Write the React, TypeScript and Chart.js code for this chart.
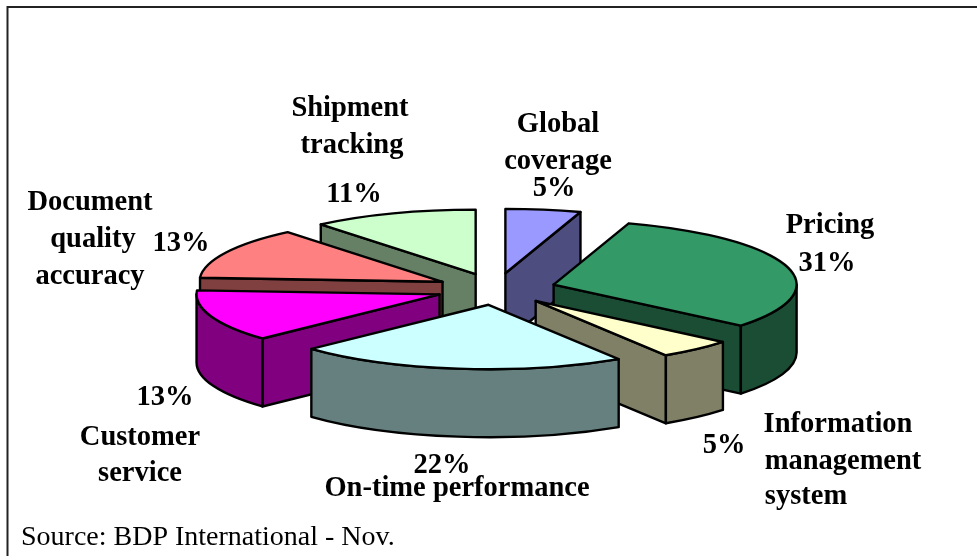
import React, { useEffect, useRef } from "react";
import { Chart, registerables } from "chart.js";

Chart.register(...registerables);

const categories = [
  "Global coverage",
  "Pricing",
  "Information management system",
  "On-time performance",
  "Customer service",
  "Document quality accuracy",
  "Shipment tracking",
];
const shares = [5, 31, 5, 22, 13, 13, 11];
const topColors = ["#9999ff", "#339966", "#ffffcc", "#ccffff", "#ff00ff", "#ff8080", "#ccffcc"];
const wallColors = ["#4d4d80", "#1a4d33", "#808066", "#668080", "#800080", "#804040", "#668066"];
const paintOrder = [6, 0, 5, 4, 1, 2, 3];
const sourceNote = "Source: BDP International - Nov.";

const TILT = 0.265;
const DEPTH = 68;
const EXPLODE = 60;
const RADIUS = 243;
const EDGE = 2.4;

const labelPlacement: [string, number, number][] = [
  ["Shipment", 350, 116],
  ["tracking", 352, 153],
  ["11%", 354, 202],
  ["Global", 558, 132],
  ["coverage", 558, 169],
  ["5%", 554, 196],
  ["Pricing", 830, 233],
  ["31%", 827, 271],
  ["Information", 838, 432],
  ["management", 843, 469],
  ["system", 806, 504],
  ["5%", 724, 453],
  ["22%", 442, 473],
  ["On-time performance", 457, 496],
  ["Customer", 140, 445],
  ["service", 140, 481],
  ["13%", 165, 405],
  ["Document", 90, 210],
  ["quality", 93, 247],
  ["accuracy", 90, 284],
  ["13%", 181, 251],
];

const pie3d = {
  id: "pie3d",
  beforeDraw(chart: any) {
    const { ctx, width, height } = chart;
    ctx.save();
    ctx.fillStyle = "#ffffff";
    ctx.fillRect(0, 0, width, height);
    ctx.strokeStyle = "#222222";
    ctx.lineWidth = 2;
    ctx.beginPath();
    ctx.moveTo(7.5, height + 2);
    ctx.lineTo(7.5, 7);
    ctx.lineTo(width + 2, 7);
    ctx.stroke();
    ctx.restore();
  },
  beforeDatasetDraw(chart: any, args: any) {
    const { ctx } = chart;
    const meta = chart.getDatasetMeta(args.index);
    for (const i of paintOrder) {
      const arc = meta.data[i];
      const { x, y, startAngle: a0, endAngle: a1, outerRadius: r } = arc.getProps(
        ["x", "y", "startAngle", "endAngle", "outerRadius"],
        true
      );
      const mid = (a0 + a1) / 2;
      const ox = x + Math.cos(mid) * EXPLODE;
      const oy = y + Math.sin(mid) * EXPLODE * TILT;
      const rim = (t: number): [number, number] => [
        ox + Math.cos(t) * r,
        oy + Math.sin(t) * r * TILT,
      ];
      const outline = (fill: string) => {
        ctx.fillStyle = fill;
        ctx.fill();
        ctx.strokeStyle = "#000000";
        ctx.lineWidth = EDGE;
        ctx.lineJoin = "round";
        ctx.stroke();
      };
      const cutFace = (t: number) => {
        const [px, py] = rim(t);
        ctx.beginPath();
        ctx.moveTo(ox, oy);
        ctx.lineTo(px, py);
        ctx.lineTo(px, py + DEPTH);
        ctx.lineTo(ox, oy + DEPTH);
        ctx.closePath();
        outline(wallColors[i]);
      };
      if (Math.cos(a0) < -1e-6) cutFace(a0);
      if (Math.cos(a1) > 1e-6) cutFace(a1);

      const w0 = Math.max(a0, 0);
      const w1 = Math.min(a1, Math.PI);
      if (w1 > w0) {
        ctx.beginPath();
        ctx.ellipse(ox, oy, r, r * TILT, 0, w0, w1);
        ctx.ellipse(ox, oy + DEPTH, r, r * TILT, 0, w1, w0, true);
        ctx.closePath();
        outline(wallColors[i]);
      }

      // The top face: the library's own arc, squashed into the tilted plane.
      ctx.save();
      ctx.translate(ox, oy);
      ctx.scale(1, TILT);
      ctx.translate(-x, -y);
      arc.draw(ctx);
      ctx.restore();

      ctx.beginPath();
      ctx.moveTo(ox, oy);
      ctx.ellipse(ox, oy, r, r * TILT, 0, a0, a1);
      ctx.closePath();
      ctx.strokeStyle = "#000000";
      ctx.lineWidth = EDGE;
      ctx.lineJoin = "round";
      ctx.stroke();
    }
    return false;
  },
  afterDraw(chart: any) {
    const { ctx } = chart;
    ctx.save();
    ctx.fillStyle = "#000000";
    ctx.textBaseline = "alphabetic";
    ctx.textAlign = "center";
    ctx.font = 'bold 28.5px "Liberation Serif"';
    for (const [text, x, y] of labelPlacement) ctx.fillText(text, x, y);
    ctx.textAlign = "left";
    ctx.font = '28px "Liberation Serif"';
    ctx.fillText(sourceNote, 21, 545);
    ctx.restore();
  },
};

export default function App() {
  const ref = useRef<HTMLCanvasElement>(null);
  useEffect(() => {
    const chart = new Chart(ref.current!, {
      type: "pie",
      data: {
        labels: categories,
        datasets: [
          {
            data: shares,
            backgroundColor: topColors,
            borderWidth: 0,
            radius: RADIUS,
          } as any,
        ],
      },
      options: {
        animation: false,
        responsive: false,
        devicePixelRatio: 1,
        layout: { padding: { left: 15, top: 22 } },
        plugins: { legend: { display: false }, tooltip: { enabled: false } },
      },
      plugins: [pie3d as any],
    });
    return () => chart.destroy();
  }, []);
  return (
    <canvas
      ref={ref}
      width={977}
      height={556}
      style={{ position: "absolute", left: 0, top: 0, width: 977, height: 556 }}
    />
  );
}
